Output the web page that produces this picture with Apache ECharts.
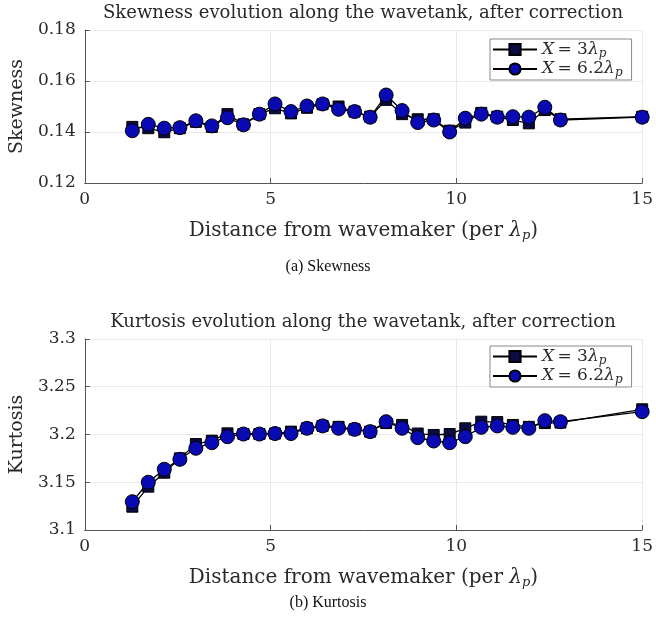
<!DOCTYPE html>
<html>
<head>
<meta charset="utf-8">
<script src="https://cdn.jsdelivr.net/npm/echarts@6/dist/echarts.min.js"></script>
<style>html,body{margin:0;padding:0;background:#fff}#c{width:656px;height:631px}</style>
</head>
<body>
<div id="c"></div>
<script>
const distance = [1.28,1.71,2.14,2.56,2.99,3.42,3.84,4.27,4.70,5.12,5.55,5.98,6.40,6.83,7.26,7.68,8.11,8.54,8.96,9.39,9.82,10.24,10.67,11.10,11.52,11.95,12.38,12.80,15.00];
const skewX3 = [0.142,0.1415,0.1399,0.1415,0.1440,0.1420,0.1470,0.1430,0.1470,0.1493,0.1473,0.1495,0.1509,0.1500,0.1480,0.1460,0.1526,0.1470,0.1450,0.1450,0.1405,0.1437,0.1475,0.1460,0.1447,0.1434,0.1486,0.1450,0.1460];
const skewX62 = [0.1405,0.1430,0.1415,0.1417,0.1444,0.1424,0.1456,0.1428,0.1470,0.1510,0.1480,0.1502,0.1510,0.1489,0.1480,0.1458,0.1545,0.1484,0.1437,0.1447,0.1400,0.1454,0.1470,0.1458,0.1460,0.1458,0.1497,0.1447,0.1458];
const kurtX3 = [3.1244,3.1454,3.1600,3.1750,3.1900,3.1935,3.2012,3.2005,3.2005,3.2010,3.2030,3.2065,3.2090,3.2080,3.2054,3.2030,3.2120,3.2100,3.2010,3.1995,3.2005,3.2065,3.2134,3.2130,3.2100,3.2080,3.2120,3.2125,3.2264];
const kurtX62 = [3.1296,3.1500,3.1636,3.1740,3.1856,3.1914,3.1977,3.2005,3.2005,3.2010,3.2010,3.2065,3.2090,3.2065,3.2054,3.2030,3.2134,3.2065,3.1967,3.1932,3.1914,3.1977,3.2075,3.2090,3.2075,3.2065,3.2145,3.2134,3.2239];
const skewTicks = {min:0.12, max:0.18, interval:0.02};
const kurtTicks = {min:3.1, max:3.3, interval:0.05};
const xTicks = {min:0, max:15, interval:5};
const seriesNames = ['X3', 'X62'];
const titles = ['Skewness evolution along the wavetank, after correction','Kurtosis evolution along the wavetank, after correction'];
const captions = ['(a) Skewness','(b) Kurtosis'];
const yNames = ['Skewness','Kurtosis'];

const SERIF = 'DejaVu Serif';
const TIMES = 'Liberation Serif';
const TXT = '#2a2a2a';
const rich = {
  i:{fontFamily:SERIF, fontStyle:'italic', fontSize:17, color:TXT},
  n:{fontFamily:SERIF, fontSize:17, color:TXT},
  s:{fontFamily:SERIF, fontStyle:'italic', fontSize:12, color:TXT, padding:[8,0,0,0]}
};
const legendLabel = n => n === 'X3' ? '{i|X} {n|= 3}{i|λ}{s|p}' : '{i|X} {n|= 6.2}{i|λ}{s|p}';
const xName = '{n|Distance from wavemaker (per }{i|λ}{s|p}{n|)}';
const xRich = {
  i:{fontFamily:SERIF, fontStyle:'italic', fontSize:20, color:TXT},
  n:{fontFamily:SERIF, fontSize:20, color:TXT},
  s:{fontFamily:SERIF, fontStyle:'italic', fontSize:13, color:TXT, padding:[10,0,0,0]}
};
const grids = [
  {left:83, right:13, top:30, height:153},
  {left:83, right:13, top:339, height:191}
];
const axisCommon = {
  axisLine:{show:true, lineStyle:{color:'#555', width:1}},
  axisTick:{show:true, inside:true, length:5, lineStyle:{color:'#555'}},
  splitLine:{show:true, lineStyle:{color:'#e8e8e8', width:1}}
};
const fmt = v => String(Math.round(v*100)/100);
const yTick = [skewTicks, kurtTicks];
const option = {
  animation:false,
  backgroundColor:'#fff',
  title: [0,1].map(k => ({text:titles[k], left:363, textAlign:'center', top:k===0?4:313, padding:0, textStyle:{fontFamily:SERIF, fontWeight:'normal', fontSize:18, color:TXT}}))
    .concat([0,1].map(k => ({text:captions[k], left:'center', top:k===0?254:590, textStyle:{fontFamily:TIMES, fontWeight:'normal', fontSize:16, color:'#111'}}))),
  grid: grids,
  legend: [0,1].map(k => ({
    data: seriesNames,
    orient:'vertical', left:490, top:k===0?39:346,
    itemWidth:44, itemHeight:14, itemGap:1,
    padding:[2,9,1,2],
    borderColor:'#888', borderWidth:1, backgroundColor:'#fff',
    formatter: legendLabel,
    textStyle:{rich:rich}
  })),
  xAxis: [0,1].map(k => Object.assign({}, axisCommon, {
    type:'value', gridIndex:k, min:xTicks.min, max:xTicks.max, interval:xTicks.interval,
    name: xName, nameLocation:'middle', nameGap:36,
    nameTextStyle:{rich:xRich},
    axisLabel:{fontFamily:SERIF, fontSize:17, color:TXT, margin:8}
  })),
  yAxis: [0,1].map(k => Object.assign({}, axisCommon, {
    type:'value', gridIndex:k, min:yTick[k].min, max:yTick[k].max, interval:yTick[k].interval,
    name: yNames[k], nameLocation:'middle', nameGap:57,
    nameTextStyle:{fontFamily:SERIF, fontSize:19, color:TXT},
    axisLabel:{fontFamily:SERIF, fontSize:17, color:TXT, margin:9, formatter:fmt}
  })),
  series: [
    {name:'X3', type:'line', xAxisIndex:0, yAxisIndex:0, data:distance.map((x,i)=>[x,skewX3[i]]),
     symbol:'rect', symbolSize:11, lineStyle:{color:'#000', width:1.3}, itemStyle:{color:'#0c0c45', borderColor:'#000', borderWidth:1}},
    {name:'X62', type:'line', xAxisIndex:0, yAxisIndex:0, data:distance.map((x,i)=>[x,skewX62[i]]),
     symbol:'circle', symbolSize:14, lineStyle:{color:'#000', width:1.3}, itemStyle:{color:'#0a0ab4', borderColor:'#000', borderWidth:1}},
    {name:'X3', type:'line', xAxisIndex:1, yAxisIndex:1, data:distance.map((x,i)=>[x,kurtX3[i]]),
     symbol:'rect', symbolSize:11, lineStyle:{color:'#000', width:1.3}, itemStyle:{color:'#0c0c45', borderColor:'#000', borderWidth:1}},
    {name:'X62', type:'line', xAxisIndex:1, yAxisIndex:1, data:distance.map((x,i)=>[x,kurtX62[i]]),
     symbol:'circle', symbolSize:14, lineStyle:{color:'#000', width:1.3}, itemStyle:{color:'#0a0ab4', borderColor:'#000', borderWidth:1}}
  ]
};
const chart = echarts.init(document.getElementById('c'), null, {renderer:'canvas'});
chart.setOption(option);
</script>
</body>
</html>
